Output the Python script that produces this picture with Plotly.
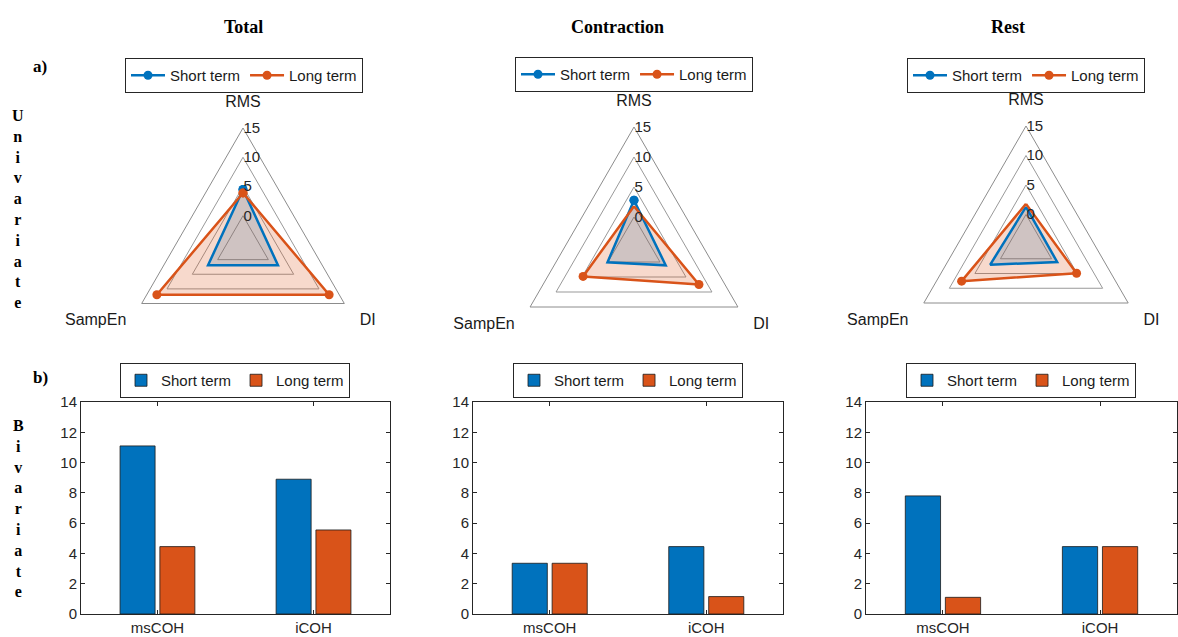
import plotly.graph_objects as go

panels = ["Total", "Contraction", "Rest"]
features = ["RMS", "DI", "SampEn"]
radar_short = {"Total": [4.5, 1.9, 1.9], "Contraction": [2.8, 1.1, 0.1], "Rest": [1.3, 1.1, 2.0]}
radar_long = {"Total": [3.9, 12.0, 12.0], "Contraction": [1.8, 7.5, 4.8], "Rest": [1.8, 4.9, 7.6]}
radial_ticks = [0, 5, 10, 15]

bar_cats = ["msCOH", "iCOH"]
bar_short = {"Total": [11.1, 8.9], "Contraction": [3.35, 4.45], "Rest": [7.8, 4.45]}
bar_long = {"Total": [4.45, 5.55], "Contraction": [3.35, 1.15], "Rest": [1.1, 4.45]}
bar_ticks = [0, 2, 4, 6, 8, 10, 12, 14]

BLUE = "#0072BD"
ORANGE = "#D95319"
W, H = 1178, 637

def px_x(v):
    return v / W

def px_y(v):
    return 1 - v / H

# polar layout (center x, center y, radius) in pixels
polar_geo = [(243, 245, 117), (634, 247, 120), (1026, 244, 118)]
title_x = [243, 617, 1008]
bar_geo = [(81, 390), (473, 783), (866, 1177)]
bar_y = (402, 614)
radar_leg = [(244, 58), (634, 57), (1026, 58)]
bar_leg = [(235, 363), (628, 363), (1021, 363)]

fig = go.Figure()
layout = {}
annotations = []
leg_idx = 1
for i, p in enumerate(panels):
    pname = "polar" if i == 0 else f"polar{i+1}"
    xa = "x" if i == 0 else f"x{i+1}"
    ya = "y" if i == 0 else f"y{i+1}"
    rleg = "legend" if leg_idx == 1 else f"legend{leg_idx}"
    bleg = f"legend{leg_idx+1}"
    leg_idx += 2
    th = features + [features[0]]
    s = radar_short[p] + [radar_short[p][0]]
    l = radar_long[p] + [radar_long[p][0]]
    # fills
    fig.add_trace(go.Scatterpolar(r=s, theta=th, subplot=pname, mode="none", fill="toself",
                                  fillcolor="rgba(0,114,189,0.2)", showlegend=False, hoverinfo="skip"))
    fig.add_trace(go.Scatterpolar(r=l, theta=th, subplot=pname, mode="none", fill="toself",
                                  fillcolor="rgba(217,83,25,0.22)", showlegend=False, hoverinfo="skip"))
    fig.add_trace(go.Scatterpolar(r=s, theta=th, subplot=pname, mode="lines+markers", name="Short term",
                                  line=dict(color=BLUE, width=2.5), marker=dict(size=9, color=BLUE),
                                  legend=rleg))
    fig.add_trace(go.Scatterpolar(r=l, theta=th, subplot=pname, mode="lines+markers", name="Long term",
                                  line=dict(color=ORANGE, width=2.5), marker=dict(size=9, color=ORANGE),
                                  legend=rleg))
    cx, cy, R = polar_geo[i]
    layout[pname] = dict(
        domain=dict(x=[px_x(cx - R), px_x(cx + R)], y=[px_y(cy + R), px_y(cy - R)]),
        gridshape="linear",
        bgcolor="rgba(0,0,0,0)",
        radialaxis=dict(range=[-5, 15], tickvals=radial_ticks, angle=90, tickangle=90,
                        showline=False, ticks="", gridcolor="#999999", gridwidth=1,
                        tickfont=dict(family="Arial", size=15, color="#262626")),
        angularaxis=dict(direction="clockwise", rotation=90, showgrid=False, showline=True,
                         linecolor="#8c8c8c", linewidth=1, ticks="outside", ticklen=14,
                         tickcolor="rgba(0,0,0,0)",
                         categoryorder="array", categoryarray=features,
                         tickfont=dict(family="Arial", size=16, color="#1a1a1a")),
    )
    # bars
    fig.add_trace(go.Bar(x=bar_cats, y=bar_short[p], name="Short term", xaxis=xa, yaxis=ya,
                         marker=dict(color=BLUE, line=dict(color="#1a1a1a", width=0.8)), legend=bleg))
    fig.add_trace(go.Bar(x=bar_cats, y=bar_long[p], name="Long term", xaxis=xa, yaxis=ya,
                         marker=dict(color=ORANGE, line=dict(color="#1a1a1a", width=0.8)), legend=bleg))
    x0, x1 = bar_geo[i]
    xk = "xaxis" if i == 0 else f"xaxis{i+1}"
    yk = "yaxis" if i == 0 else f"yaxis{i+1}"
    layout[xk] = dict(domain=[px_x(x0), px_x(x1)], anchor=ya, range=[-0.49, 1.49],
                      showline=True, linecolor="#262626", linewidth=1, mirror="ticks",
                      ticks="inside", ticklen=4, tickcolor="#262626", automargin=False,
                      tickfont=dict(family="Arial", size=15, color="#262626"), showgrid=False)
    layout[yk] = dict(domain=[px_y(bar_y[1]), px_y(bar_y[0])], anchor=xa, range=[0, 14],
                      tickvals=bar_ticks, showline=True, linecolor="#262626", linewidth=1,
                      mirror="ticks", ticks="inside", ticklen=4, tickcolor="#262626", automargin=False,
                      tickfont=dict(family="Arial", size=15, color="#262626"), showgrid=False,
                      zeroline=False)
    legstyle = dict(orientation="h", xanchor="center", yanchor="top", bgcolor="white",
                    bordercolor="#262626", borderwidth=1,
                    font=dict(family="Arial", size=15, color="#1a1a1a"),
                    tracegroupgap=0)
    lx, ly = radar_leg[i]
    layout[rleg] = dict(x=px_x(lx), y=px_y(ly), itemwidth=34, **legstyle)
    bx, by = bar_leg[i]
    layout[bleg] = dict(x=px_x(bx), y=px_y(by), itemwidth=30, **legstyle)
    annotations.append(dict(text=f"<b>{p}</b>", x=px_x(title_x[i]), y=px_y(27), xref="paper", yref="paper",
                            xanchor="center", yanchor="middle", showarrow=False,
                            font=dict(family="Liberation Serif", size=18, color="black")))

def side_label(text, x, y, size):
    return dict(text=text, x=px_x(x), y=px_y(y), xref="paper", yref="paper", xanchor="center",
                yanchor="middle", showarrow=False,
                font=dict(family="Liberation Serif", size=size, color="black"))

annotations.append(side_label("<b>a)</b>", 40, 66, 17))
annotations.append(side_label("<b>b)</b>", 40, 377, 17))
annotations.append(side_label("<b>" + "<br>".join("Univariate") + "</b>", 18, 209, 16))
annotations.append(side_label("<b>" + "<br>".join("Bivariate") + "</b>", 18, 508, 16))

fig.update_layout(width=W, height=H, margin=dict(l=0, r=0, t=0, b=0, autoexpand=False),
                  paper_bgcolor="white", plot_bgcolor="white",
                  barmode="group", bargap=0.49, bargroupgap=0.12,
                  annotations=annotations, **layout)
fig.write_html("out.html", config={"displayModeBar": False},
               post_script="document.body.style.margin='0';document.body.style.overflow='hidden';")
